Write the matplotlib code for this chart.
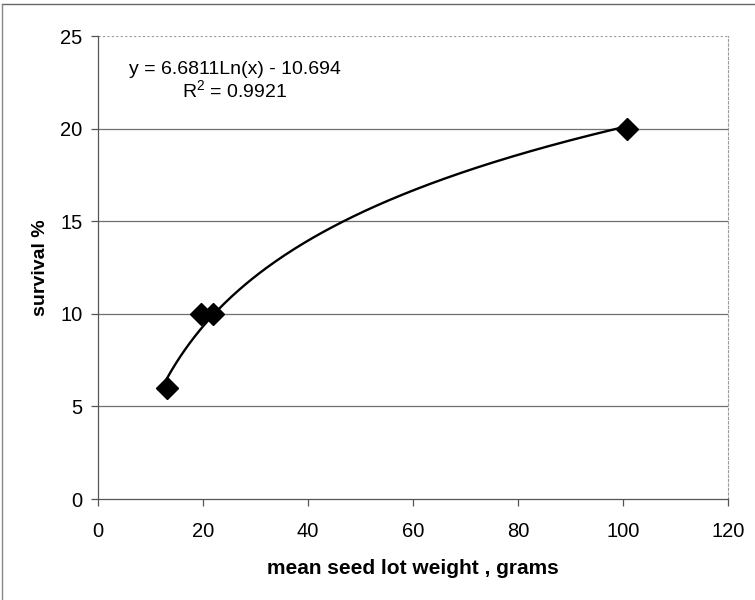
import matplotlib
matplotlib.use("Agg")
import matplotlib.pyplot as plt
import numpy as np

plt.rcParams['font.family'] = ['Liberation Sans', 'DejaVu Sans']

# seed lot data
seed_weight = [13.1, 19.6, 21.9, 100.8]
survival = [6, 10, 10, 20]

# log trend line coefficients (from the chart label)
coef_a = 6.6811
coef_b = -10.694

fig = plt.figure(figsize=(7.55, 6.0), dpi=100)
ax = fig.add_axes([0.1298, 0.1683, 0.8344, 0.7717])

# horizontal gridlines
for yv in [5, 10, 15, 20]:
    ax.axhline(yv, color='#6f6f6f', lw=0.9, zorder=0)
ax.axhline(25, color='#9a9a9a', lw=0.8, ls=(0, (2, 2)), zorder=0)

# trend line
xt = np.linspace(min(seed_weight), max(seed_weight), 200)
ax.plot(xt, coef_a * np.log(xt) + coef_b, color='black', lw=1.7, zorder=2)

ax.plot(seed_weight, survival, ls='none', marker='D', ms=11,
        color='black', zorder=3)

ax.text(0.2175, 0.9286, 'y = 6.6811Ln(x) - 10.694', transform=ax.transAxes,
        ha='center', va='center', fontsize=14)
ax.text(0.2175, 0.883, '$\\mathregular{R^2}$ = 0.9921', transform=ax.transAxes,
        ha='center', va='center', fontsize=14)

ax.set_xlim(0, 120)
ax.set_ylim(0, 25)
ax.set_xticks(np.arange(0, 121, 20))
ax.set_yticks(np.arange(0, 26, 5))
ax.tick_params(labelsize=14.5, length=5, color='#555555', width=0.9)
ax.tick_params(axis='x', pad=11.5)
ax.tick_params(axis='y', pad=6)

ax.spines['top'].set_visible(False)
ax.spines['right'].set_color('#9a9a9a')
ax.spines['right'].set_linestyle((0, (2, 2)))
ax.spines['right'].set_linewidth(0.8)
for s in ['left', 'bottom']:
    ax.spines[s].set_color('#555555')
    ax.spines[s].set_linewidth(0.9)

ax.set_xlabel('mean seed lot weight , grams', fontsize=15, fontweight='bold',
              labelpad=13)
ax.set_ylabel('survival %', fontsize=14, fontweight='bold', labelpad=8)

# outer chart frame (top and left edges visible)
fig.add_artist(plt.Line2D([0.003, 1.0], [0.993, 0.993], color='#666666', lw=1))
fig.add_artist(plt.Line2D([0.003, 0.003], [0.0, 0.993], color='#888888', lw=1))

fig.savefig('out.png', dpi=100)
